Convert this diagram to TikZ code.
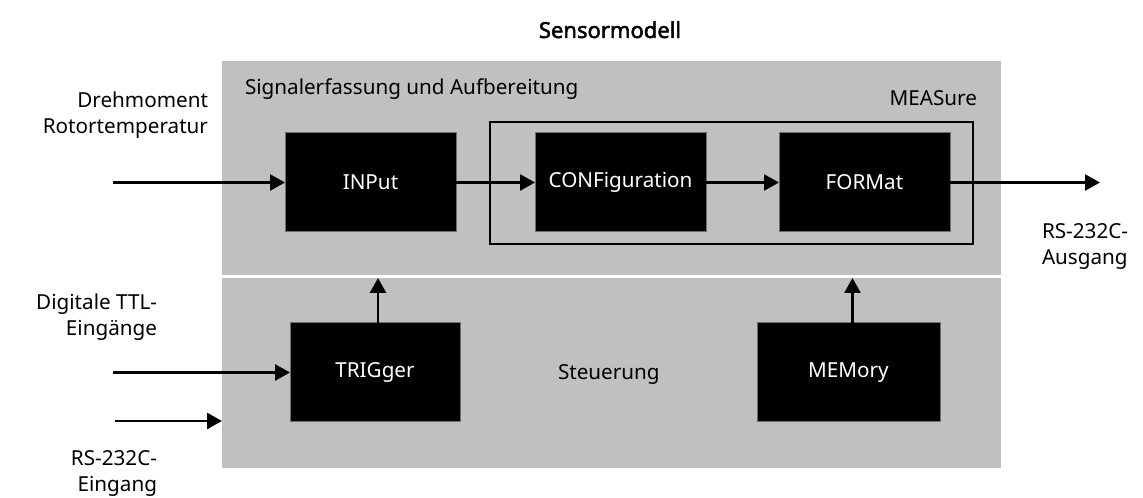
\documentclass[tikz,border=0pt]{standalone}
\usepackage{fontspec}
\setmainfont{Noto Sans}[AutoFakeBold=2.2]
\usetikzlibrary{arrows.meta}
\definecolor{panelgray}{RGB}{192,192,192}
\definecolor{boxedge}{RGB}{110,110,110}
\begin{document}
\begin{tikzpicture}[x=0.75pt,y=-0.75pt,
  every node/.style={inner sep=0pt, outer sep=0pt},
  lbl/.style={font=\fontsize{15.5}{19.5}\selectfont},
  panel/.style={fill=panelgray, minimum width=584.25pt},
  block/.style={fill=black, draw=boxedge, line width=0.75pt, text=white,
    minimum height=74.25pt, font=\fontsize{15.5}{18}\selectfont},
  frame/.style={draw=black, line width=2pt, minimum width=362.25pt, minimum height=91.5pt},
  flow/.style={line width=2pt, -{Triangle[length=11.25pt,width=12pt]}},
]
\useasboundingbox (0,0) rectangle (1143,498);

% panels
\node[panel, minimum height=160.5pt] (acq) at (611.5,168) {};
\node[panel, minimum height=142.5pt] (ctrl) at (611.5,373) {};

% group frame
\node[frame] (measure) at (731.5,183) {};

% blocks
\node[block, minimum width=128.25pt] (inp)  at (370.5,182.5) {INPut};
\node[block, minimum width=128.25pt] (conf) at (620.5,182.5) {CONFiguration};
\node[block, minimum width=128.25pt] (fmt)  at (864.5,182.5) {FORMat};
\node[block, minimum width=127.5pt]  (trig) at (375,372.5) {TRIGger};
\node[block, minimum width=137.25pt] (mem)  at (848.5,372.5) {MEMory};

% titles
\node[font=\fontsize{16.5}{19}\selectfont\bfseries, anchor=base] (title) at (610,38) {Sensormodell};
\node[lbl, anchor=base west] (acqlbl) at (245,95) {Signalerfassung und Aufbereitung};
\node[lbl, anchor=base east] (measlbl) at (977,106) {MEASure};
\node[lbl, anchor=base west] (ctrllbl) at (558,380) {Steuerung};

% external signals
\node[lbl, align=right, anchor=east] (torque) at (208,115) {Drehmoment\\Rotortemperatur};
\node[lbl, align=right, anchor=east] (ttl) at (157,317) {Digitale TTL-\\Eingänge};
\node[lbl, align=right, anchor=east] (rsinlbl) at (157,474) {RS-232C-\\Eingang};
\node[lbl, align=left, anchor=west] (rsoutlbl) at (1042,246.5) {RS-232C-\\Ausgang};

% connector ends
\coordinate (torquein) at (113,182.5);
\coordinate (ttlin) at (113,372.5);
\coordinate (rsin) at (115,421);
\coordinate (rsout) at (1100,182.5);

% connectors
\draw[flow] (torquein) -- (inp.west);
\draw[flow] (inp.east) -- (conf.west);
\draw[flow] (conf.east) -- (fmt.west);
\draw[flow] (fmt.east) -- (rsout);
\draw[flow] (ttlin) -- (trig.west);
\draw[flow] (rsin) -- (rsin -| ctrl.west);
\draw[flow] ([xshift=2.25pt]trig.north) -- ([xshift=2.25pt]trig.north |- ctrl.north);
\draw[flow] ([xshift=3pt]mem.north) -- ([xshift=3pt]mem.north |- ctrl.north);
\end{tikzpicture}
\end{document}
